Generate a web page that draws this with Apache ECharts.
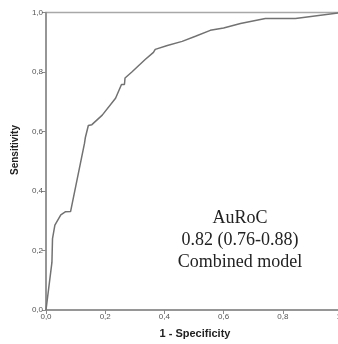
<!DOCTYPE html>
<html><head><meta charset="utf-8">
<script src="https://cdn.jsdelivr.net/npm/echarts@6/dist/echarts.min.js"></script>
<style>html,body{margin:0;padding:0;background:#fff}#c{width:338px;height:344px}</style>
</head><body><div id="c"></div>
<script>
// ROC curve: 1 - Specificity (x) vs Sensitivity (y)
var fpr = [0, 0.02, 0.022, 0.03, 0.05, 0.065, 0.083, 0.13, 0.133, 0.143, 0.155, 0.19, 0.235, 0.255, 0.265, 0.267, 0.29, 0.335, 0.363, 0.369, 0.41, 0.46, 0.505, 0.555, 0.6, 0.657, 0.741, 0.843, 1.0];
var tpr = [0, 0.16, 0.24, 0.285, 0.32, 0.33, 0.331, 0.56, 0.58, 0.62, 0.623, 0.655, 0.712, 0.758, 0.758, 0.78, 0.80, 0.842, 0.866, 0.876, 0.889, 0.903, 0.92, 0.94, 0.948, 0.963, 0.98, 0.98, 1.0];
var tickValues = [0, 0.2, 0.4, 0.6, 0.8, 1.0];
var xTitle = '1 - Specificity';
var yTitle = 'Sensitivity';
var annotation = ['AuRoC', '0.82 (0.76-0.88)', 'Combined model'];

var pts = fpr.map(function (x, i) { return [x, tpr[i]]; });
function fmt(v) { return v.toFixed(1).replace('.', ','); }

var chart = echarts.init(document.getElementById('c'));
var axisCommon = {
  type: 'value', min: 0, max: 1, interval: 0.2,
  splitLine: { show: false },
  axisLine: { show: true, lineStyle: { color: '#8a8a8a', width: 1.5 } },
  axisTick: { show: true, length: 4, lineStyle: { color: '#8a8a8a', width: 1 } },
  axisLabel: { fontFamily: 'Liberation Sans, Arial', fontSize: 8, color: '#555', margin: 3, formatter: fmt, showMaxLabel: true, showMinLabel: true }
};
chart.setOption({
  animation: false,
  grid: { left: 46, right: -4, top: 12.5, bottom: 34, outerBoundsMode: 'none', containLabel: false, show: true, borderColor: '#a8a8a8', borderWidth: 1.5 },
  xAxis: Object.assign({}, axisCommon),
  yAxis: Object.assign({}, axisCommon),
  series: [{
    type: 'line', data: pts, showSymbol: false, symbol: 'none',
    lineStyle: { color: '#727272', width: 1.5 }
  }],
  graphic: [
    { type: 'text', position: [15, 150], rotation: Math.PI / 2,
      style: { text: yTitle, font: 'bold 10px "Liberation Sans", Arial', fill: '#222', textAlign: 'center', textVerticalAlign: 'middle' } },
    { type: 'text', position: [195, 334],
      style: { text: xTitle, font: 'bold 11px "Liberation Sans", Arial', fill: '#222', textAlign: 'center', textVerticalAlign: 'middle' } },
    { type: 'text', position: [240, 218],
      style: { text: annotation[0], font: '18px "Liberation Serif", "Times New Roman", serif', fill: '#222', textAlign: 'center', textVerticalAlign: 'middle' } },
    { type: 'text', position: [240, 240],
      style: { text: annotation[1], font: '18px "Liberation Serif", "Times New Roman", serif', fill: '#222', textAlign: 'center', textVerticalAlign: 'middle' } },
    { type: 'text', position: [240, 262],
      style: { text: annotation[2], font: '18px "Liberation Serif", "Times New Roman", serif', fill: '#222', textAlign: 'center', textVerticalAlign: 'middle' } }
  ]
});
</script></body></html>
